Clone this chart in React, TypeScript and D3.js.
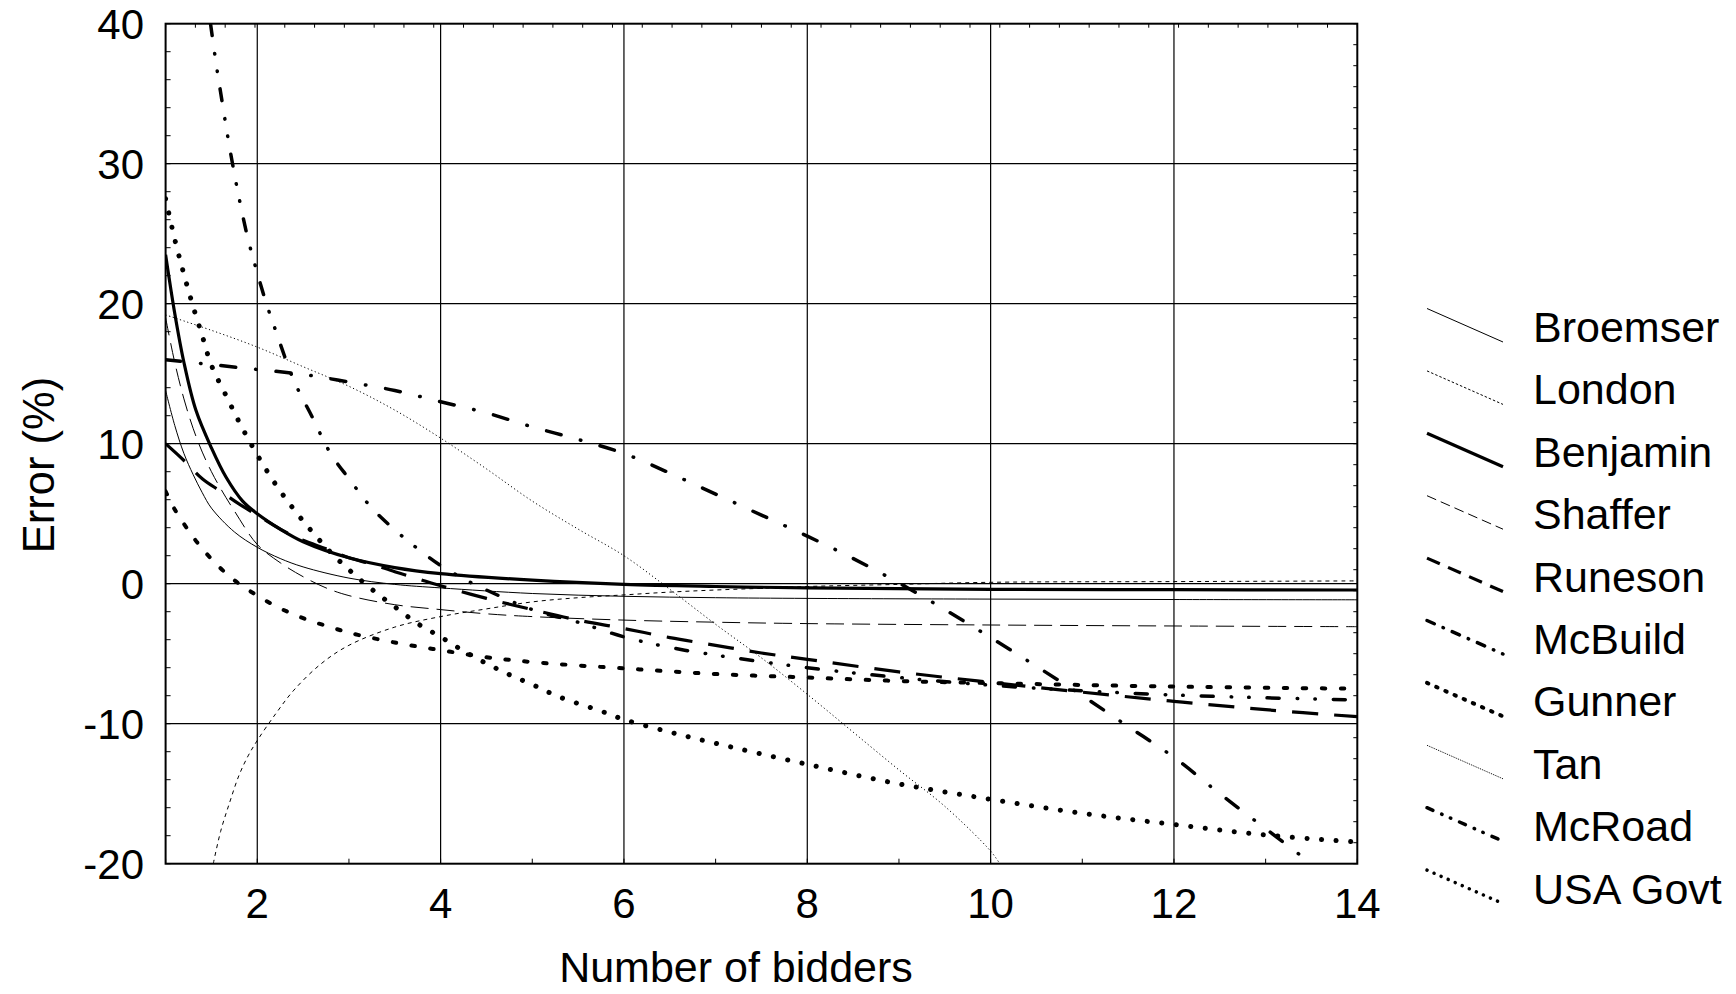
import React from 'react';
import * as d3 from 'd3';

type P = [number, number];

const xTickLabels = [2, 4, 6, 8, 10, 12, 14];
const yTickLabels = [-20, -10, 0, 10, 20, 30, 40];
const xGrid = [2, 4, 6, 8, 10, 12];
const yGrid = [-10, 0, 10, 20, 30];

const broemser: P[] = [[1,13.8],[1.1,11.3],[1.2,9.3],[1.3,7.8],[1.4,6.5],[1.5,5.4],[1.75,3.7],[2,2.6],[2.25,1.8],[2.5,1.2],[3,0.4],[3.5,-0.05],[4,-0.3],[5,-0.7],[6,-0.9],[7,-1.0],[8,-1.05],[10,-1.1],[12,-1.13],[14,-1.15]];
const london: P[] = [[1.52,-20],[1.6,-17.7],[1.7,-15.6],[1.8,-13.7],[1.9,-12.3],[2,-11.2],[2.2,-9.3],[2.4,-7.6],[2.7,-5.7],[3,-4.4],[3.5,-3.1],[4,-2.35],[4.5,-1.8],[5,-1.3],[5.5,-1.0],[6,-0.8],[6.5,-0.6],[7,-0.45],[7.5,-0.33],[8,-0.2],[9,-0.05],[10,0.1],[12,0.15],[14,0.2]];
const benjamin: P[] = [[1,23.5],[1.1,19.3],[1.2,15.8],[1.33,12.4],[1.5,9.7],[1.66,7.6],[1.84,5.9],[2,5.0],[2.25,3.9],[2.5,3.0],[3,1.85],[3.5,1.15],[4,0.72],[5,0.25],[6,-0.05],[7,-0.2],[8,-0.3],[10,-0.4],[12,-0.43],[14,-0.45]];
const shaffer: P[] = [[1,19.0],[1.1,15.8],[1.2,13.2],[1.3,11.1],[1.4,9.4],[1.5,8.0],[1.6,6.8],[1.75,5.2],[2,2.8],[2.25,1.5],[2.5,0.5],[2.75,-0.3],[3,-0.85],[3.5,-1.5],[4,-1.85],[4.5,-2.15],[5,-2.35],[6,-2.6],[7,-2.75],[8,-2.85],[10,-2.95],[12,-3.02],[14,-3.07]];
const runeson: P[] = [[1,10],[1.2,8.8],[1.4,7.5],[1.6,6.6],[1.8,5.7],[2,4.9],[2.25,3.9],[2.5,3.1],[2.75,2.5],[3,1.85],[3.25,1.4],[3.5,0.85],[3.75,0.35],[4,-0.15],[4.5,-1.05],[5,-1.85],[5.5,-2.6],[6,-3.2],[6.5,-3.85],[7,-4.4],[7.5,-4.95],[8,-5.4],[9,-6.3],[10,-7.05],[11,-7.75],[12,-8.4],[13,-9.0],[14,-9.5]];
const mcbuild: P[] = [[1,16.0],[1.5,15.65],[2,15.3],[2.5,14.95],[3,14.4],[3.5,13.8],[4,13.0],[4.5,12.2],[5,11.2],[5.5,10.3],[6,9.3],[6.5,7.9],[7,6.4],[7.5,4.9],[8,3.4],[8.5,1.8],[9,0.05],[9.5,-1.85],[10,-3.85],[10.5,-5.9],[11,-8.0],[11.5,-10.2],[12,-12.4],[12.5,-15.0],[13,-17.5],[13.5,-20]];
const gunner: P[] = [[1,6.6],[1.1,5.3],[1.25,3.8],[1.4,2.5],[1.6,1.1],[1.8,0],[2,-0.85],[2.2,-1.6],[2.4,-2.2],[2.6,-2.7],[2.8,-3.1],[3,-3.5],[3.5,-4.2],[4,-4.75],[4.5,-5.25],[5,-5.6],[6,-6.05],[7,-6.45],[8,-6.7],[9,-6.95],[10,-7.1],[12,-7.35],[14,-7.5]];
const tan: P[] = [[1,19.2],[1.5,18.1],[2,16.9],[2.5,15.5],[3,14.1],[3.5,12.4],[4,10.4],[4.5,8.2],[5,5.9],[5.5,3.9],[6,2.0],[6.5,-0.4],[7,-2.9],[7.5,-5.3],[8,-7.9],[8.5,-10.6],[9,-13.3],[9.5,-15.9],[10,-19.1],[10.1,-20]];
const mcroad: P[] = [[1.49,40],[1.55,37.2],[1.6,35.1],[1.7,31.1],[1.8,27.6],[1.9,24.6],[2,22.2],[2.1,20],[2.2,18.1],[2.4,14.5],[2.6,11.9],[2.8,9.3],[3,7.5],[3.25,5.4],[3.5,3.85],[3.75,2.5],[4,1.3],[4.25,0.35],[4.5,-0.45],[5,-1.85],[5.5,-2.75],[6,-3.8],[6.5,-4.55],[7,-5.1],[8,-6.0],[9,-6.7],[10,-7.25],[11,-7.65],[12,-7.95],[13,-8.15],[14,-8.3]];
const usaGovt: P[] = [[1,27.5],[1.1,24.6],[1.2,22.1],[1.3,19.8],[1.4,17.7],[1.5,15.6],[1.67,13.3],[1.83,11.2],[2,9.2],[2.2,7.1],[2.4,5.3],[2.6,3.7],[2.8,2.25],[3,1.0],[3.25,-0.4],[3.5,-1.65],[3.75,-2.85],[4,-3.8],[4.25,-4.8],[4.5,-5.7],[4.75,-6.5],[5,-7.2],[5.3,-8.1],[5.75,-9.1],[6,-9.7],[6.5,-10.6],[7,-11.4],[8,-12.9],[9,-14.3],[10,-15.4],[11,-16.4],[12,-17.2],[13,-17.95],[14,-18.45]];

const seriesNames = ['Broemser','London','Benjamin','Shaffer','Runeson','McBuild','Gunner','Tan','McRoad','USA Govt'];
const seriesData = [broemser, london, benjamin, shaffer, runeson, mcbuild, gunner, tan, mcroad, usaGovt];

const styles = [
  { w: 1, dash: '', legendDash: '', cap: 'butt' },
  { w: 1, dash: '4,4', legendDash: '2.5,2', cap: 'butt' },
  { w: 3.2, dash: '', legendDash: '', cap: 'butt' },
  { w: 1, dash: '18,8', legendDash: '10,5', cap: 'butt' },
  { w: 3.2, dash: '26,16', legendDash: '14,9', cap: 'butt' },
  { w: 3.5, dash: '15,20,0.5,20', legendDash: '8,9.5,0.5,9.5', cap: 'round' },
  { w: 4, dash: '3.5,15.5', legendDash: '1.5,8.5', cap: 'round' },
  { w: 1, dash: '1.2,2.6', legendDash: '1,1', cap: 'butt' },
  { w: 3.5, dash: '12,18,0.5,17,0.5,18', legendDash: '6.5,9.5,0.5,9,0.5,9.5', cap: 'round' },
  { w: 5, dash: '0.1,14.5', legendDash: '0.1,7.6', cap: 'round' },
];

const W = 1736, H = 994;
const L = 165.6, R = 1357.3, T = 23.7, B = 863.7;
const FONT = '"Liberation Sans", Arial, Helvetica, sans-serif';

export default function App() {
  const x = d3.scaleLinear().domain([1, 14]).range([L, R]);
  const y = d3.scaleLinear().domain([-20, 40]).range([B, T]);
  const line = d3.line<P>().x(d => x(d[0])).y(d => y(d[1])).curve(d3.curveCatmullRom.alpha(0.5));

  const bottomTicks = d3.range(1, 15);
  const leftTicks = d3.range(-20, 41, 2);
  const topTicks = d3.range(0, 41).map(i => L + (R - L) * i / 40);
  const rightTicks = d3.range(0, 41).map(i => T + (B - T) * i / 40);

  const legendX0 = 1427, legendX1 = 1503, legendTextX = 1533;
  const legendBase0 = 342, legendStep = 62.4;

  return (
    <svg width={W} height={H} style={{ position: 'absolute', left: 0, top: 0, display: 'block', background: '#fff' }} fontFamily={FONT}>
      <defs>
        <clipPath id="plotClip"><rect x={L} y={T} width={R - L} height={B - T} /></clipPath>
      </defs>
      <rect x={0} y={0} width={W} height={H} fill="#fff" />
      {xGrid.map(v => <line key={'gx' + v} x1={x(v)} x2={x(v)} y1={T} y2={B} stroke="#000" strokeWidth={1.2} />)}
      {yGrid.map(v => <line key={'gy' + v} x1={L} x2={R} y1={y(v)} y2={y(v)} stroke="#000" strokeWidth={1.2} />)}
      {bottomTicks.map(v => <line key={'bt' + v} x1={x(v)} x2={x(v)} y1={B} y2={B - 5} stroke="#000" strokeWidth={1} />)}
      {leftTicks.map(v => <line key={'lt' + v} x1={L} x2={L + 5} y1={y(v)} y2={y(v)} stroke="#000" strokeWidth={1} />)}
      {topTicks.map((v, i) => <line key={'tt' + i} x1={v} x2={v} y1={T} y2={T + 4} stroke="#000" strokeWidth={1} />)}
      {rightTicks.map((v, i) => <line key={'rt' + i} x1={R} x2={R - 4} y1={v} y2={v} stroke="#000" strokeWidth={1} />)}
      <g clipPath="url(#plotClip)">
        {seriesData.map((d, i) => (
          <path key={seriesNames[i]} d={line(d) || ''} fill="none" stroke="#000"
            strokeWidth={styles[i].w} strokeDasharray={styles[i].dash || undefined}
            strokeLinecap={styles[i].cap as any} strokeLinejoin="round" />
        ))}
      </g>
      <rect x={L} y={T} width={R - L} height={B - T} fill="none" stroke="#000" strokeWidth={2} />
      {xTickLabels.map(v => (
        <text key={'xl' + v} x={x(v)} y={918} fontSize={42} textAnchor="middle" fill="#000">{v}</text>
      ))}
      {yTickLabels.map(v => (
        <text key={'yl' + v} x={144} y={y(v)} dy="0.36em" fontSize={42} textAnchor="end" fill="#000">{v}</text>
      ))}
      <text x={736} y={982} fontSize={43} textAnchor="middle" fill="#000">Number of bidders</text>
      <text transform={`translate(54,465) rotate(-90)`} fontSize={43.5} textAnchor="middle" fill="#000">Error (%)</text>
      {seriesNames.map((n, i) => {
        const base = legendBase0 + i * legendStep;
        return (
          <g key={'lg' + n}>
            <line x1={legendX0} y1={base - 33.5} x2={legendX1} y2={base} stroke="#000"
              strokeWidth={styles[i].w === 5 ? 3.5 : styles[i].w} strokeDasharray={styles[i].legendDash || undefined}
              strokeLinecap={styles[i].cap as any} />
            <text x={legendTextX} y={base} fontSize={43} fill="#000">{n}</text>
          </g>
        );
      })}
    </svg>
  );
}
